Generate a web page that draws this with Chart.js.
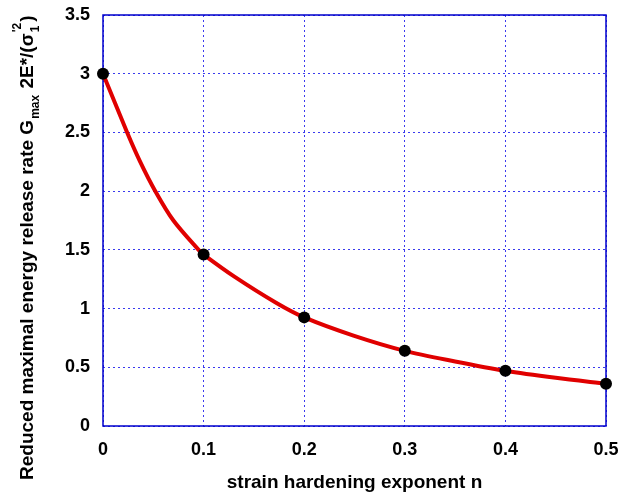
<!DOCTYPE html>
<html>
<head>
<meta charset="utf-8">
<script src="https://cdn.jsdelivr.net/npm/chart.js@4.4.0/dist/chart.umd.min.js"></script>
<style>
    html, body { margin: 0; padding: 0; background: #fff; }
    #wrap { width: 621px; height: 494px; }
</style>
</head>
<body>
<div id="wrap"><canvas id="energy_chart" width="621" height="494"></canvas></div>
<script>
// computed points (black dots)
const hardening_n = [0, 0.1, 0.2, 0.3, 0.4, 0.5]
const reduced_G = [3.0, 1.46, 0.925, 0.64, 0.47, 0.36]
// red curve
const curve_n = [0, 0.024, 0.037, 0.052, 0.070, 0.095, 0.1, 0.131, 0.172, 0.2, 0.249, 0.3, 0.35, 0.4, 0.45, 0.5]
const curve_G = [3.0, 2.5, 2.25, 2.0, 1.75, 1.5, 1.46, 1.27, 1.05, 0.925, 0.77, 0.64, 0.55, 0.47, 0.41, 0.36]
const x_tick_labels = ['0', '0.1', '0.2', '0.3', '0.4', '0.5']
const y_tick_labels = ['0', '0.5', '1', '1.5', '2', '2.5', '3', '3.5']

const FAMILY = '"Liberation Sans", Arial, sans-serif'
const BLUE = '#0000cc'
const GRID = '#3a3aee'

// y axis title with sub/superscripts, drawn rotated
const yTitlePlugin = {
    id: 'yTitle',
    afterDraw(chart) {
        const ctx = chart.ctx
        const parts = [
            {t: 'Reduced maximal energy release rate G', s: 0},
            {t: 'max', s: -1},
            {t: ' 2E*/(σ', s: 0},
            {t: '1', s: -1, stack: "'2"},
            {t: ')', s: 0}
        ]
        const big = 'bold 19px ' + FAMILY
        const small = 'bold 12px ' + FAMILY
        ctx.save()
        ctx.translate(33, 480)
        ctx.rotate(-Math.PI / 2)
        ctx.fillStyle = '#000'
        ctx.textBaseline = 'alphabetic'
        ctx.textAlign = 'left'
        let x = 0
        parts.forEach(p => {
            if (p.s === 0) {
                ctx.font = big
                ctx.fillText(p.t, x, 0)
                x += ctx.measureText(p.t).width
            } else {
                ctx.font = small
                ctx.fillText(p.t, x + 1, 6)
                let w = ctx.measureText(p.t).width
                if (p.stack) {
                    ctx.fillText(p.stack, x + 1, -12)
                    w = Math.max(w, ctx.measureText(p.stack).width)
                }
                x += w + 2
            }
        })
        ctx.restore()
    }
}

// solid blue frame round the plot area
const framePlugin = {
    id: 'frame',
    beforeDatasetsDraw(chart) {
        const {left, right, top, bottom} = chart.chartArea
        const ctx = chart.ctx
        ctx.save()
        ctx.strokeStyle = BLUE
        ctx.lineWidth = 1.5
        ctx.strokeRect(left, top, right - left, bottom - top)
        ctx.restore()
    }
}

const ctx_energy = document.getElementById('energy_chart').getContext('2d')
new Chart(ctx_energy, {
    type: 'line',
    data: {
        datasets: [{
            label: 'points',
            data: hardening_n.map((n, i) => ({x: n, y: reduced_G[i]})),
            showLine: false,
            pointRadius: 6,
            pointBackgroundColor: '#000',
            pointBorderColor: '#000',
            pointBorderWidth: 0,
            clip: false
        }, {
            label: 'curve',
            data: curve_n.map((n, i) => ({x: n, y: curve_G[i]})),
            borderColor: '#e00000',
            borderWidth: 4,
            tension: 0.3,
            pointRadius: 0,
            clip: false
        }]
    },
    plugins: [yTitlePlugin, framePlugin],
    options: {
        responsive: false,
        animation: false,
        layout: {padding: {top: 15, right: 15, left: 0, bottom: 0}},
        plugins: {legend: {display: false}, tooltip: {enabled: false}},
        scales: {
            x: {
                type: 'linear',
                min: 0, max: 0.5,
                ticks: {
                    stepSize: 0.1,
                    color: '#000',
                    font: {family: FAMILY, size: 18, weight: 'bold'},
                    padding: 13,
                    maxRotation: 0,
                    callback: (v, i) => x_tick_labels[i]
                },
                grid: {color: GRID, drawTicks: false, lineWidth: 1},
                border: {display: false, dash: [2, 3]},
                title: {
                    display: true,
                    text: 'strain hardening exponent n',
                    color: '#000',
                    font: {family: FAMILY, size: 19, weight: 'bold'},
                    padding: {top: 0, bottom: 0}
                },
                afterFit(scale) {
                    scale.height = 68
                    scale.paddingLeft = 0
                    scale.paddingRight = 0
                }
            },
            y: {
                min: 0, max: 3.5,
                ticks: {
                    stepSize: 0.5,
                    color: '#000',
                    font: {family: FAMILY, size: 18, weight: 'bold'},
                    padding: 13,
                    callback: (v, i) => y_tick_labels[i]
                },
                grid: {color: GRID, drawTicks: false, lineWidth: 1},
                border: {display: false, dash: [2, 3]},
                afterFit(scale) {
                    scale.width = 103
                    scale.paddingTop = 0
                    scale.paddingBottom = 0
                }
            }
        }
    }
})
</script>
</body>
</html>
